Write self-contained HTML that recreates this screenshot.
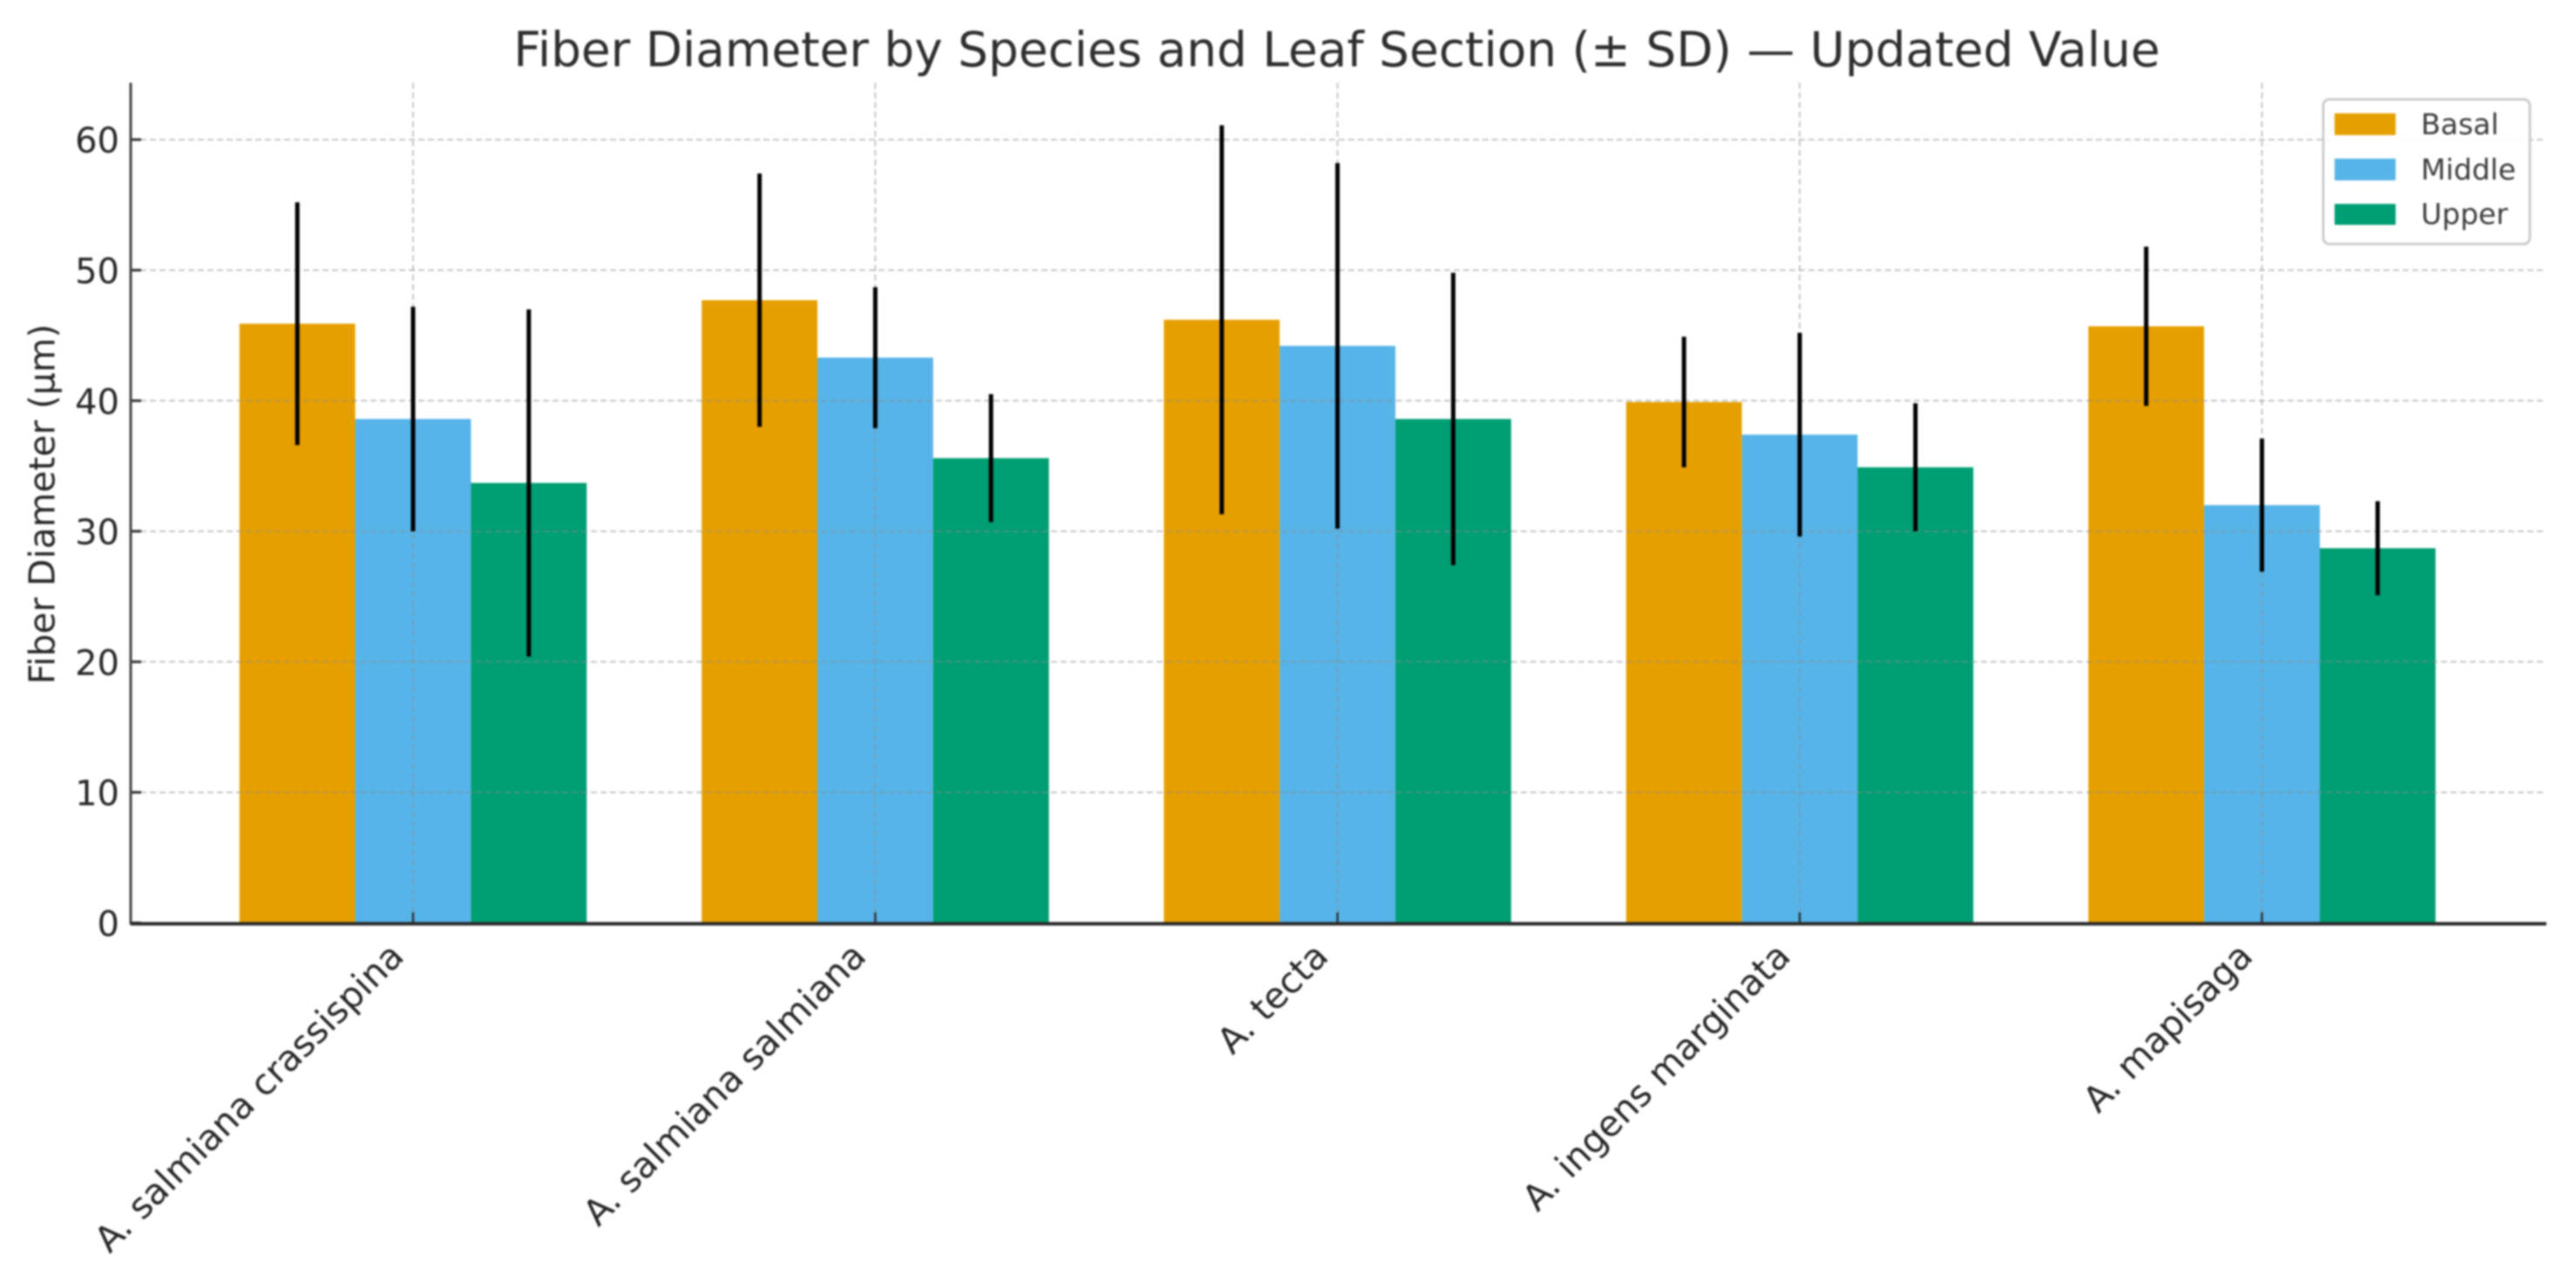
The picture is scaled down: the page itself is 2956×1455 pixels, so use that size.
<!DOCTYPE html>
<html lang="en">
<head>
<meta charset="utf-8">
<title>Fiber Diameter by Species and Leaf Section</title>
<style>
html,body{margin:0;padding:0;background:#fff;width:2956px;height:1455px;overflow:hidden}
svg{display:block;filter:blur(1px)}
text{font-family:"DejaVu Sans","Liberation Sans",sans-serif}
</style>
</head>
<body>
<svg id="chart" xmlns="http://www.w3.org/2000/svg" width="2956" height="1455" viewBox="0 0 2956 1455">
<rect x="0" y="0" width="2956" height="1455" fill="#ffffff"/>
<g id="bars"></g>
<g id="grid"></g>
<g id="errors"></g>
<g id="axes"></g>
<text x="1534" y="76" text-anchor="middle" font-size="54.9" fill="#2e2e2e">Fiber Diameter by Species and Leaf Section (± SD) — Updated Value</text>
<text transform="translate(62.5,578.5) rotate(-90)" text-anchor="middle" font-size="40.8" fill="#262626">Fiber Diameter (µm)</text>
<g>
<rect x="2666" y="114" width="237" height="166" rx="7" fill="#ffffff" fill-opacity="0.9" stroke="#cccccc" stroke-width="3"/>
<rect x="2679" y="130" width="70" height="25" fill="#E69F00"/>
<text x="2778" y="154" font-size="33" fill="#3c3c3c">Basal</text>
<rect x="2679" y="182" width="70" height="25" fill="#56B4E9"/>
<text x="2778" y="206" font-size="33" fill="#3c3c3c">Middle</text>
<rect x="2679" y="234" width="70" height="24" fill="#009E73"/>
<text x="2778" y="257" font-size="33" fill="#3c3c3c">Upper</text>
</g>
</svg>
<script>
const categories = ["A. salmiana crassispina", "A. salmiana salmiana", "A. tecta", "A. ingens marginata", "A. mapisaga"];
const seriesNames = ["Basal", "Middle", "Upper"];
const basalMeans = [45.9, 47.7, 46.2, 39.9, 45.7];
const middleMeans = [38.6, 43.3, 44.2, 37.4, 32.0];
const upperMeans = [33.7, 35.6, 38.6, 34.9, 28.7];
const basalSD = [9.3, 9.7, 14.9, 5.0, 6.1];
const middleSD = [8.6, 5.4, 14.0, 7.8, 5.1];
const upperSD = [13.3, 4.9, 11.2, 4.9, 3.6];
const yTicks = [0, 10, 20, 30, 40, 50, 60];

const seriesMeans = [basalMeans, middleMeans, upperMeans];
const seriesSD = [basalSD, middleSD, upperSD];
const seriesColors = ["#E69F00", "#56B4E9", "#009E73"];

const NS = "http://www.w3.org/2000/svg";
const plotLeft = 150, plotRight = 2918, plotTop = 95, plotBottom = 1059;
const firstCategoryX = 474, categoryStep = 530.4, barWidth = 132.8;
const unitHeight = 14.98;

function xScale(i) { return firstCategoryX + categoryStep * i; }
function yScale(v) { return plotBottom - unitHeight * v; }

function make(parent, tag, attrs, content) {
  const el = document.createElementNS(NS, tag);
  for (const key in attrs) el.setAttribute(key, attrs[key]);
  if (content !== undefined) el.textContent = content;
  parent.appendChild(el);
  return el;
}
function slug(s) { return s.toLowerCase().replace(/[^a-z]+/g, "-"); }

const grid = document.getElementById("grid");
const bars = document.getElementById("bars");
const errors = document.getElementById("errors");
const axes = document.getElementById("axes");

yTicks.forEach(function (t) {
  if (t > 0) {
    const g = make(grid, "line", {x1: plotLeft, x2: plotRight, y1: yScale(t), y2: yScale(t), stroke: "#8e8e8e", "stroke-opacity": 0.5, "stroke-width": 2, "stroke-dasharray": "7 4"});
    
    
  }
  const tick = make(axes, "line", {x1: plotLeft, x2: plotLeft + 12, y1: yScale(t), y2: yScale(t), stroke: "#333333", "stroke-width": 3});
  
  
  const label = make(axes, "text", {x: plotLeft - 13, y: yScale(t) + 15, "text-anchor": "end", "font-size": 40, fill: "#262626"}, String(t));
  
  
});

categories.forEach(function (c, i) {
  const cx = xScale(i);
  const gv = make(grid, "line", {x1: cx, x2: cx, y1: plotTop, y2: plotBottom, stroke: "#8e8e8e", "stroke-opacity": 0.5, "stroke-width": 2, "stroke-dasharray": "7 4"});
  
  

  seriesNames.forEach(function (s, k) {
    const mean = seriesMeans[k][i];
    const sd = seriesSD[k][i];
    const bx = cx + (k - 1) * barWidth;
    const bar = make(bars, "rect", {x: bx - barWidth / 2, y: yScale(mean), width: barWidth, height: plotBottom - yScale(mean), fill: seriesColors[k]});
    
    
    const err = make(errors, "line", {x1: bx, x2: bx, y1: yScale(mean + sd), y2: yScale(mean - sd), stroke: "#000000", "stroke-width": 5});
    
    
  });

  const tick = make(axes, "line", {x1: cx, x2: cx, y1: plotBottom - 12, y2: plotBottom, stroke: "#333333", "stroke-width": 2.5});
  
  
  const label = make(axes, "text", {transform: "translate(" + (cx - 30) + "," + (plotBottom + 19) + ") rotate(-45)", "text-anchor": "end", "font-size": 41, "dominant-baseline": "hanging", fill: "#262626"}, c);
  
  
});

const leftSpine = make(axes, "line", {x1: plotLeft, x2: plotLeft, y1: plotTop, y2: plotBottom + 2, stroke: "#444444", "stroke-width": 3});


const bottomSpine = make(axes, "line", {x1: plotLeft, x2: plotRight + 4, y1: plotBottom + 1, y2: plotBottom + 1, stroke: "#2a2a2a", "stroke-width": 4});


</script>
</body>
</html>
